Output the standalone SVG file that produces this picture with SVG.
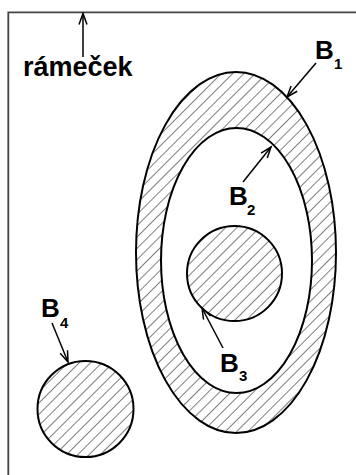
<svg xmlns="http://www.w3.org/2000/svg" width="356" height="475" viewBox="0 0 356 475">
<style>
.lbl{font-family:"Liberation Sans",Arial,sans-serif;font-weight:bold;fill:#000}
.big{font-size:26px}
.sub{font-size:15px}
.edge{stroke:#000;stroke-width:2;}
.arr{stroke:#000;stroke-width:1.5;fill:none;marker-end:url(#ah)}
</style>
<defs>
<pattern id="hatch" patternUnits="userSpaceOnUse" width="8" height="8" patternTransform="rotate(45)">
<rect width="8" height="8" fill="#fff"/>
<line x1="0" y1="0" x2="0" y2="8" stroke="#000" stroke-width="1"/>
</pattern>
<marker id="ah" markerUnits="userSpaceOnUse" viewBox="-12 -6 14 12" refX="0" refY="0" markerWidth="14" markerHeight="12" orient="auto">
<path d="M-11,-4 L0,0 L-11,4" fill="none" stroke="#000" stroke-width="1.5"/>
</marker>
</defs>
<rect width="356" height="475" fill="#fff"/>
<g id="frame">
<path d="M356,12.3 H8.3 V475" fill="none" stroke="#444" stroke-width="1.8"/>
<text class="lbl" x="23" y="76" font-size="27">rámeček</text>
</g>
<g id="B1">
<ellipse cx="236" cy="252.5" rx="100" ry="180.5" fill="url(#hatch)" class="edge"/>
<text class="lbl big" x="315" y="59">B</text><text class="lbl sub" x="334" y="69">1</text>
</g>
<g id="B2">
<ellipse cx="236.5" cy="260.5" rx="75.5" ry="132.5" fill="#fff" class="edge"/>
<text class="lbl big" x="229" y="205">B</text><text class="lbl sub" x="247" y="215">2</text>
</g>
<g id="B3">
<circle cx="234.5" cy="273.5" r="47.5" fill="url(#hatch)" class="edge"/>
<text class="lbl big" x="220" y="372">B</text><text class="lbl sub" x="239" y="381">3</text>
</g>
<g id="B4">
<circle cx="85.5" cy="409" r="48" fill="url(#hatch)" class="edge"/>
<text class="lbl big" x="41" y="317">B</text><text class="lbl sub" x="60" y="328">4</text>
</g>
<g id="connectors">
<line class="arr" x1="83" y1="57" x2="83" y2="13.5"/>
<line class="arr" x1="316" y1="63" x2="287" y2="97"/>
<line class="arr" x1="243" y1="182" x2="271" y2="147"/>
<line class="arr" x1="223" y1="348" x2="202" y2="308"/>
<line class="arr" x1="52" y1="323" x2="68" y2="362"/>
</g>
</svg>
